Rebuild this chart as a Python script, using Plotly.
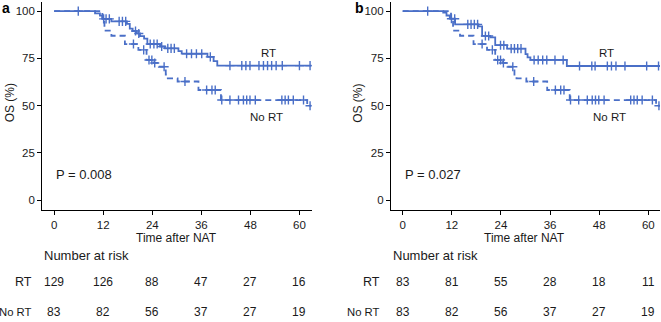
import numpy as np
import plotly.graph_objects as go

# ---------------- data ----------------
# No RT (same cohort in both panels)
nort_times = [0, 11.8, 12.3, 14.0, 17.3, 20.6, 22.6, 24.4, 25.6, 27.3, 27.8, 30.2, 35.3, 40.8, 61.9]
nort_surv = [100, 95.2, 89.7, 87.0, 82.6, 79.5, 74.2, 72.6, 70.6, 66.5, 64.5, 62.8, 58.3, 53.0, 50.0]
nort_cens = [19.4, 21.9, 23.2, 23.9, 24.6, 26.9, 32.0, 37.3, 38.6, 39.4, 41.0, 43.0, 45.1, 46.3,
             47.1, 47.9, 49.2, 55.7, 56.5, 57.3, 58.5, 61.0, 62.6]
nort_end = 62.9

# RT, panel a
rta_times = [0, 10.0, 11.2, 11.8, 14.0, 17.8, 18.5, 19.2, 20.2, 21.0, 22.0, 22.8, 25.9, 27.1,
             30.4, 31.2, 37.5, 39.0, 39.9]
rta_surv = [100, 98.8, 97.6, 95.9, 94.6, 93.3, 90.8, 89.5, 88.2, 86.8, 85.5, 82.6, 81.3, 80.3,
            78.9, 77.5, 75.8, 73.6, 71.2]
rta_cens = [5.9, 12.1, 12.7, 13.5, 15.9, 16.7, 17.5, 19.9, 20.7, 23.5, 24.4, 25.2, 26.3, 27.8,
            28.6, 29.4, 32.4, 33.6, 34.8, 36.1, 38.2, 43.0, 45.9, 46.9, 47.9, 50.1, 51.2, 52.2,
            53.2, 54.3, 55.8, 60.0, 62.6]
rta_end = 63.0

# RT, panel b
rtb_times = [0, 9.9, 10.7, 11.5, 12.8, 18.5, 19.4, 21.4, 22.6, 25.5, 30.0, 30.5, 31.2, 40.1]
rtb_surv = [100, 99.2, 97.7, 96.0, 93.0, 92.0, 86.9, 86.1, 82.0, 80.2, 77.3, 75.6, 74.2, 71.0]
rtb_cens = [6.1, 11.9, 12.7, 15.9, 16.7, 17.5, 18.3, 20.2, 21.0, 23.9, 24.7, 26.5, 27.3, 28.1,
            28.9, 32.1, 33.1, 34.2, 35.2, 37.2, 39.2, 43.2, 46.2, 47.0, 50.0, 51.0, 52.1, 54.3,
            59.6, 62.5]
rtb_end = 62.9

risk_times = [0, 12, 24, 36, 48, 60]
risk_rt_a = [129, 126, 88, 47, 27, 16]
risk_nort_a = [83, 82, 56, 37, 27, 19]
risk_rt_b = [83, 81, 55, 28, 18, 11]
risk_nort_b = [83, 82, 56, 37, 27, 19]

p_values = ["P = 0.008", "P = 0.027"]
panel_letters = ["a", "b"]
x_ticks = [0, 12, 24, 36, 48, 60]
y_ticks = [0, 25, 50, 75, 100]

# ---------------- styling ----------------
W, H = 661, 322
BLUE = "#4a6fc7"
FONT = "Liberation Sans, Arial, sans-serif"
TXT = "#1a1a1a"


def px_x(p):
    return p / W


def px_y(p):
    return 1 - p / H


def step_value(times, surv, t):
    i = np.searchsorted(np.asarray(times), t, side="right") - 1
    return np.asarray(surv)[i]


fig = go.Figure()


def add_curve(times, surv, cens, end, xa, ya, dash):
    xs = list(times) + [end]
    ys = list(surv) + [surv[-1]]
    fig.add_trace(go.Scatter(x=xs, y=ys, mode="lines", line_shape="hv",
                             line=dict(color=BLUE, width=1.8, dash=dash),
                             xaxis=xa, yaxis=ya, showlegend=False, hoverinfo="skip"))
    cy = [float(step_value(times, surv, c)) for c in cens]
    fig.add_trace(go.Scatter(x=cens, y=cy, mode="markers",
                             marker=dict(symbol="cross-thin", size=6.5, color=BLUE,
                                         line=dict(color=BLUE, width=1.4)),
                             xaxis=xa, yaxis=ya, showlegend=False, hoverinfo="skip"))


add_curve(nort_times, nort_surv, nort_cens, nort_end, "x", "y", "6px,4px")
add_curve(rta_times, rta_surv, rta_cens, rta_end, "x", "y", "solid")
add_curve(nort_times, nort_surv, nort_cens, nort_end, "x2", "y2", "6px,4px")
add_curve(rtb_times, rtb_surv, rtb_cens, rtb_end, "x2", "y2", "solid")

ydom = [px_y(209.7), px_y(1.7)]
axis_common = dict(showline=True, linecolor="black", linewidth=1.2, ticks="outside",
                   ticklen=4, tickcolor="black", tickwidth=1.1, showgrid=False,
                   zeroline=False, tickfont=dict(family=FONT, size=11.5, color=TXT))
fig.update_layout(
    width=W, height=H, margin=dict(l=0, r=0, t=0, b=0),
    paper_bgcolor="white", plot_bgcolor="white",
    xaxis=dict(domain=[px_x(42.3), px_x(311.7)], range=[-2.9, 63.0], tickvals=x_ticks,
               anchor="y", **axis_common),
    yaxis=dict(domain=ydom, range=[-5, 105], tickvals=y_ticks, anchor="x", **axis_common),
    xaxis2=dict(domain=[px_x(391), px_x(660)], range=[-2.86, 62.86], tickvals=x_ticks,
                anchor="y2", **axis_common),
    yaxis2=dict(domain=ydom, range=[-5, 105], tickvals=y_ticks, anchor="x2", **axis_common),
)

ann = []
panels = [
    dict(xa="x", ya="y", left=42.3, right=311.7, lab_right=33.8, letter_x=0,
         risk_rt=risk_rt_a, risk_nort=risk_nort_a, rt_lbl=(52.4, 78), nort_lbl=(52.0, 44.2),
         ylab_x=10),
    dict(xa="x2", ya="y2", left=391, right=660, lab_right=382, letter_x=352.5,
         risk_rt=risk_rt_b, risk_nort=risk_nort_b, rt_lbl=(49.8, 78), nort_lbl=(50.5, 44.2),
         ylab_x=358.5),
]
for i, pnl in enumerate(panels):
    f = dict(family=FONT, color=TXT)
    # panel letter
    ann.append(dict(text="<b>%s</b>" % panel_letters[i], x=px_x(pnl["letter_x"]), y=px_y(8),
                    xref="paper", yref="paper", xanchor="left", yanchor="middle",
                    showarrow=False, font=dict(family=FONT, size=14, color="black")))
    # y title
    ann.append(dict(text="OS (%)", x=px_x(pnl["ylab_x"]), y=px_y(103.3), xref="paper",
                    yref="paper", textangle=-90, showarrow=False,
                    xanchor="center", yanchor="middle", font=dict(size=12, **f)))
    # x title
    ann.append(dict(text="Time after NAT", x=px_x((pnl["left"] + pnl["right"]) / 2 - 1),
                    y=px_y(238), xref="paper", yref="paper", showarrow=False,
                    xanchor="center", yanchor="middle", font=dict(size=12, **f)))
    # curve labels
    ann.append(dict(text="RT", x=pnl["rt_lbl"][0], y=pnl["rt_lbl"][1], xref=pnl["xa"],
                    yref=pnl["ya"], showarrow=False, font=dict(size=11.5, **f)))
    ann.append(dict(text="No RT", x=pnl["nort_lbl"][0], y=pnl["nort_lbl"][1], xref=pnl["xa"],
                    yref=pnl["ya"], showarrow=False, font=dict(size=11.5, **f)))
    # p value
    ann.append(dict(text=p_values[i], x=0, y=13.4, xref=pnl["xa"], yref=pnl["ya"],
                    xanchor="left", yanchor="middle", showarrow=False,
                    font=dict(size=13, **f)))
    # number at risk
    ann.append(dict(text="Number at risk", x=px_x(pnl["left"] - 0.5), y=px_y(255),
                    xref="paper", yref="paper", xanchor="left", yanchor="middle",
                    showarrow=False, font=dict(size=13, **f)))
    for lbl, row, ypx, fs in [("RT", pnl["risk_rt"], 281.7, 12.5),
                              ("No RT", pnl["risk_nort"], 311.7, 11.3)]:
        ann.append(dict(text=lbl, x=px_x(pnl["lab_right"]), y=px_y(ypx), xref="paper",
                        yref="paper", xanchor="right", yanchor="middle", showarrow=False,
                        font=dict(size=fs, **f)))
        for t, n in zip(risk_times, row):
            ann.append(dict(text=str(n), x=t, y=px_y(ypx), xref=pnl["xa"], yref="paper",
                            xanchor="center", yanchor="middle", showarrow=False,
                            font=dict(size=12, **f)))

fig.update_layout(annotations=ann)
fig.write_html("out.html", config={"displayModeBar": False},
               post_script="document.body.style.margin='0';document.body.style.overflow='hidden';")
